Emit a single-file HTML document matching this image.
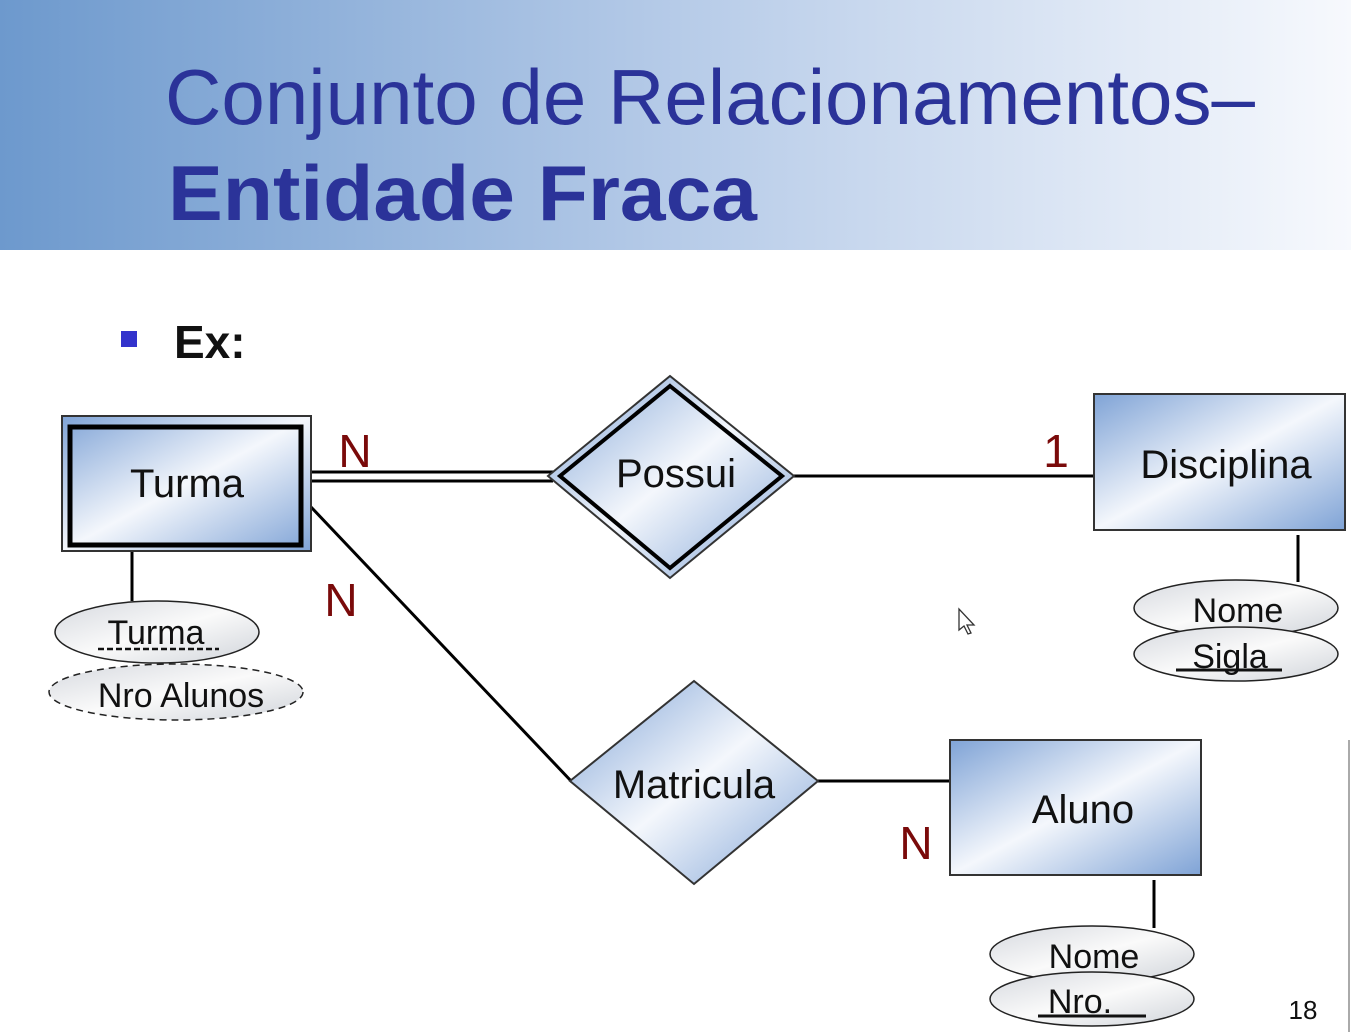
<!DOCTYPE html>
<html><head><meta charset="utf-8"><style>
html,body{margin:0;padding:0;background:#fff;}
svg{display:block;font-family:"Liberation Sans",sans-serif;}
</style></head><body>
<svg width="1351" height="1032" viewBox="0 0 1351 1032" xmlns="http://www.w3.org/2000/svg">
<defs>
<linearGradient id="hdr" x1="0" y1="0" x2="1" y2="0">
<stop offset="0" stop-color="#6d99cd"/><stop offset="0.5" stop-color="#b6cbe8"/><stop offset="1" stop-color="#f7f9fd"/>
</linearGradient>
<linearGradient id="box" x1="0" y1="0" x2="1" y2="1">
<stop offset="0" stop-color="#7fa3d6"/><stop offset="0.5" stop-color="#f4f7fc"/><stop offset="1" stop-color="#7fa3d6"/>
</linearGradient>
<linearGradient id="ell" x1="0" y1="0" x2="1" y2="1">
<stop offset="0" stop-color="#d6d9df"/><stop offset="0.5" stop-color="#fafafa"/><stop offset="1" stop-color="#d0d4da"/>
</linearGradient>
</defs>
<rect x="0" y="0" width="1351" height="250" fill="url(#hdr)"/>
<text x="165" y="124" font-size="78" fill="#2b3399" textLength="1090" lengthAdjust="spacingAndGlyphs">Conjunto de Relacionamentos–</text>
<text x="168" y="220" font-size="78" font-weight="bold" fill="#2b3399" textLength="589" lengthAdjust="spacingAndGlyphs">Entidade Fraca</text>

<rect x="121" y="331" width="16" height="16" fill="#3333cc"/>
<text x="174" y="358" font-size="46" font-weight="bold" fill="#111">Ex:</text>

<!-- connectors -->
<line x1="311" y1="472" x2="553" y2="472" stroke="#000" stroke-width="3"/>
<line x1="311" y1="481" x2="553" y2="481" stroke="#000" stroke-width="3"/>
<line x1="794" y1="476" x2="1094" y2="476" stroke="#000" stroke-width="3"/>
<line x1="1298" y1="535" x2="1298" y2="582" stroke="#000" stroke-width="3"/>
<line x1="132" y1="551" x2="132" y2="601" stroke="#000" stroke-width="3"/>
<line x1="311" y1="507" x2="572" y2="782" stroke="#000" stroke-width="3"/>
<line x1="818" y1="781" x2="950" y2="781" stroke="#000" stroke-width="3"/>
<line x1="1154" y1="880" x2="1154" y2="928" stroke="#000" stroke-width="3"/>

<!-- Turma weak entity -->
<rect x="62" y="416" width="249" height="135" fill="url(#box)" stroke="#333" stroke-width="2"/>
<rect x="70" y="427" width="231" height="118" fill="none" stroke="#000" stroke-width="5"/>
<text x="187" y="497" font-size="40" text-anchor="middle" fill="#111">Turma</text>

<!-- Possui -->
<polygon points="670,376 794,476 670,578 548,476" fill="url(#box)" stroke="#333" stroke-width="2"/>
<polygon points="670,386 782,476 670,568 560,476" fill="none" stroke="#000" stroke-width="4"/>
<text x="676" y="487" font-size="40" text-anchor="middle" fill="#111">Possui</text>

<!-- Disciplina -->
<rect x="1094" y="394" width="251" height="136" fill="url(#box)" stroke="#333" stroke-width="2"/>
<text x="1226" y="478" font-size="40" text-anchor="middle" fill="#111">Disciplina</text>

<!-- Matricula -->
<polygon points="694,681 818,781 694,884 570,781" fill="url(#box)" stroke="#333" stroke-width="2"/>
<text x="694" y="798" font-size="40" text-anchor="middle" fill="#111">Matricula</text>

<!-- Aluno -->
<rect x="950" y="740" width="251" height="135" fill="url(#box)" stroke="#333" stroke-width="2"/>
<text x="1083" y="823" font-size="40" text-anchor="middle" fill="#111">Aluno</text>

<!-- Turma attrs -->
<ellipse cx="176" cy="692" rx="127" ry="28" fill="url(#ell)" stroke="#222" stroke-width="1.5" stroke-dasharray="7,5"/>
<text x="181" y="707" font-size="34" text-anchor="middle" fill="#111">Nro Alunos</text>
<ellipse cx="157" cy="632" rx="102" ry="31" fill="url(#ell)" stroke="#222" stroke-width="1.5"/>
<text x="156" y="644" font-size="34" text-anchor="middle" fill="#111">Turma</text>
<line x1="98" y1="649" x2="219" y2="649" stroke="#111" stroke-width="2.5" stroke-dasharray="6,3"/>

<!-- Disciplina attrs -->
<ellipse cx="1236" cy="608" rx="102" ry="28" fill="url(#ell)" stroke="#222" stroke-width="1.5"/>
<text x="1238" y="622" font-size="34" text-anchor="middle" fill="#111">Nome</text>
<ellipse cx="1236" cy="654" rx="102" ry="27" fill="url(#ell)" stroke="#222" stroke-width="1.5"/>
<text x="1230" y="668" font-size="34" text-anchor="middle" fill="#111">Sigla</text>
<line x1="1176" y1="670" x2="1282" y2="670" stroke="#111" stroke-width="3"/>

<!-- Aluno attrs -->
<ellipse cx="1092" cy="954" rx="102" ry="28" fill="url(#ell)" stroke="#222" stroke-width="1.5"/>
<text x="1094" y="968" font-size="34" text-anchor="middle" fill="#111">Nome</text>
<ellipse cx="1092" cy="999" rx="102" ry="27" fill="url(#ell)" stroke="#222" stroke-width="1.5"/>
<text x="1080" y="1013" font-size="34" text-anchor="middle" fill="#111">Nro.</text>
<line x1="1038" y1="1016" x2="1146" y2="1016" stroke="#111" stroke-width="3"/>

<!-- cardinalities -->
<text x="355" y="467" font-size="46" text-anchor="middle" fill="#7a0a0a">N</text>
<text x="341" y="616" font-size="46" text-anchor="middle" fill="#7a0a0a">N</text>
<text x="1056" y="467" font-size="46" text-anchor="middle" fill="#7a0a0a">1</text>
<text x="916" y="859" font-size="46" text-anchor="middle" fill="#7a0a0a">N</text>

<!-- cursor -->
<polygon points="959,609 959,630 964,626 968,634 971,633 967,625 974,625" fill="#fff" stroke="#333" stroke-width="1.3"/>

<text x="1303" y="1019" font-size="26" text-anchor="middle" fill="#111">18</text>
<line x1="1349" y1="740" x2="1349" y2="1032" stroke="#aaa" stroke-width="2"/>
</svg>
</body></html>
